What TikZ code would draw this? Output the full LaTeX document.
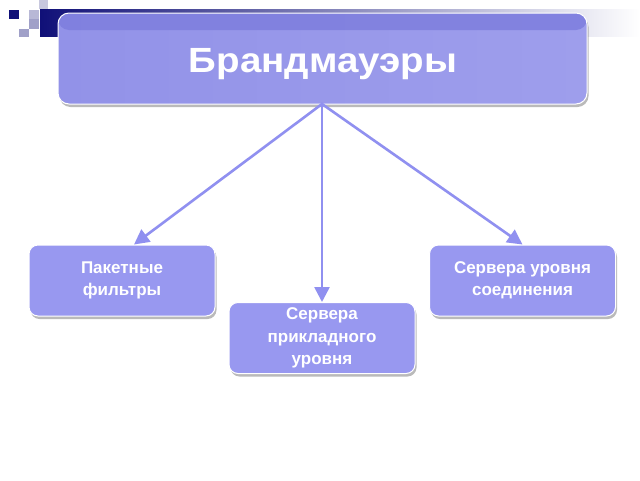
\documentclass[tikz,border=0pt]{standalone}
\usepackage{fontspec}
\setmainfont{Liberation Sans}
\newfontfamily\titlefont[FakeStretch=1.1]{Liberation Sans}
\usetikzlibrary{arrows.meta,shadows}
\definecolor{navy}{RGB}{16,16,120}
\definecolor{boxfill}{RGB}{152,152,240}
\definecolor{mainlight}{RGB}{158,158,236}
\definecolor{mainleft}{RGB}{146,146,232}
\definecolor{band}{RGB}{126,126,222}
\definecolor{arrowc}{RGB}{144,144,240}
\definecolor{sqa}{RGB}{200,200,222}
\definecolor{sqb}{RGB}{160,160,200}
\definecolor{sqc}{RGB}{184,184,214}
\tikzset{
  childbox/.style={draw=white, line width=1pt, fill=boxfill, rounded corners=9pt,
    drop shadow={shadow xshift=1.5pt, shadow yshift=-3pt, opacity=0.45, fill=black!60},
    text=white, font=\bfseries\fontsize{17}{22.5}\selectfont, align=center,
    minimum width=186pt, minimum height=71pt, inner sep=0pt},
  mainbox/.style={draw=white, line width=1pt, rounded corners=11pt,
    left color=mainleft, right color=mainlight,
    drop shadow={shadow xshift=1.5pt, shadow yshift=-3pt, opacity=0.45, fill=black!60},
    minimum width=529pt, minimum height=91pt, inner sep=0pt,
    path picture={\fill[band, opacity=0.85] (path picture bounding box.north west) rectangle ([yshift=-17pt]path picture bounding box.north east);}},
  titletext/.style={text=white, font=\titlefont\bfseries\fontsize{35}{40}\selectfont, inner sep=0pt, anchor=base},
  link/.style={draw=arrowc, line width=2.6pt, -{Triangle[length=15pt, width=15pt]}, shorten <=-1pt}
}
\begin{document}
\begin{tikzpicture}[x=1pt, y=-1pt]
\useasboundingbox (0,0) rectangle (640,480);
\fill[white] (0,0) rectangle (640,480);
% top bar
\shade[left color=navy, right color=white] (40,9) rectangle (640,36);
% decorative squares
\fill[navy] (9,10) rectangle (19,19);
\fill[sqc] (29,10) rectangle (39,19);
\fill[sqa] (39,0) rectangle (48,9);
\fill[sqb] (29,19) rectangle (39,29);
\fill[sqb] (19,29) rectangle (29,37);
% boxes
\node[mainbox] (main) at (322.5,58.5) {};
\node[titletext] (title) at (323,72) {Брандмауэры};
\node[childbox] (left) at (122,280.5) {Пакетные\\фильтры};
\node[childbox] (mid) at (322,338) {Сервера\\прикладного\\уровня};
\node[childbox] (right) at (522.5,280.5) {Сервера уровня\\соединения};
\coordinate (hub) at (322,104);
\draw[link] (hub) -- (left.north -| 134,0);
\draw[link] (hub) -- (mid.north);
\draw[link] (hub) -- (right.north);
\end{tikzpicture}
\end{document}
